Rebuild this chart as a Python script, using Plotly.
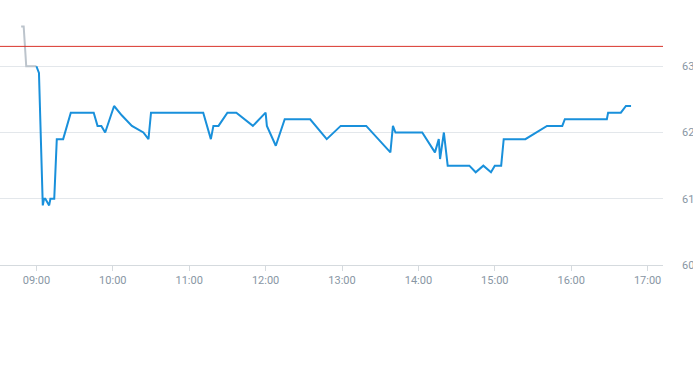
import plotly.graph_objects as go

DAY = "2024-01-02 "

pre_times = ["08:48", "08:50", "08:52", "09:00"]
pre_values = [63.6, 63.6, 63.0, 63.0]

times = ["09:00", "09:02", "09:05", "09:06", "09:07", "09:10", "09:11", "09:14", "09:16",
         "09:21", "09:27", "09:45", "09:48", "09:51", "09:54", "10:01", "10:07", "10:15",
         "10:24", "10:28", "10:30", "11:11", "11:17", "11:19", "11:23", "11:30", "11:37",
         "11:50", "12:00", "12:01", "12:08", "12:15", "12:35", "12:48", "12:59", "13:19",
         "13:38", "13:40", "13:42", "14:03", "14:13", "14:16", "14:17", "14:20", "14:23",
         "14:40", "14:45", "14:51", "14:57", "15:00", "15:05", "15:07", "15:24", "15:41",
         "15:53", "15:55", "16:28", "16:29", "16:39", "16:43", "16:47"]
values = [63.0, 62.9, 60.9, 61.0, 61.0, 60.9, 61.0, 61.0, 61.9,
          61.9, 62.3, 62.3, 62.1, 62.1, 62.0, 62.4, 62.26, 62.1,
          62.0, 61.9, 62.3, 62.3, 61.9, 62.1, 62.1, 62.3, 62.3,
          62.1, 62.3, 62.1, 61.8, 62.2, 62.2, 61.9, 62.1, 62.1,
          61.7, 62.1, 62.0, 62.0, 61.7, 61.9, 61.6, 62.0, 61.5,
          61.5, 61.4, 61.5, 61.4, 61.5, 61.5, 61.9, 61.9, 62.1,
          62.1, 62.2, 62.2, 62.3, 62.3, 62.4, 62.4]

reference_level = 63.3
y_ticks = [60, 61, 62, 63]
x_start, x_end = "08:31:24", "17:12:06"

fig = go.Figure()
fig.add_trace(go.Scatter(x=[DAY + t for t in pre_times], y=pre_values, mode="lines",
                         line=dict(color="#bcc4cc", width=2), hoverinfo="skip"))
fig.add_trace(go.Scatter(x=[DAY + t for t in times], y=values, mode="lines",
                         line=dict(color="#1990db", width=2)))
fig.add_hline(y=reference_level, line=dict(color="#d9342b", width=1))

fig.update_layout(
    width=693, height=365,
    margin=dict(l=0, r=30, t=0, b=100, autoexpand=False),
    paper_bgcolor="white", plot_bgcolor="white",
    showlegend=False,
    font=dict(family="Roboto", size=11, color="#8896a4"),
    xaxis=dict(
        type="date", range=[DAY + x_start, DAY + x_end],
        tickformat="%H:%M", dtick=3600000, tick0=DAY + "09:00",
        showgrid=False, showline=True, linecolor="#d5dade", linewidth=1,
        ticks="outside", ticklen=5, tickcolor="#d5dade",
        tickfont=dict(family="Roboto", size=11, color="#8896a4"),
        zeroline=False,
    ),
    yaxis=dict(
        side="right", range=[60, 64], tickvals=y_ticks,
        ticktext=[str(v) for v in y_ticks],
        showgrid=True, gridcolor="#e3e7eb", gridwidth=1,
        zeroline=False, showline=False, ticks="", ticklabelstandoff=18,
        tickfont=dict(family="Roboto", size=11, color="#8896a4"),
    ),
)

fig.write_html("out.html", config={"displayModeBar": False},
               post_script="document.body.style.margin='0';")
